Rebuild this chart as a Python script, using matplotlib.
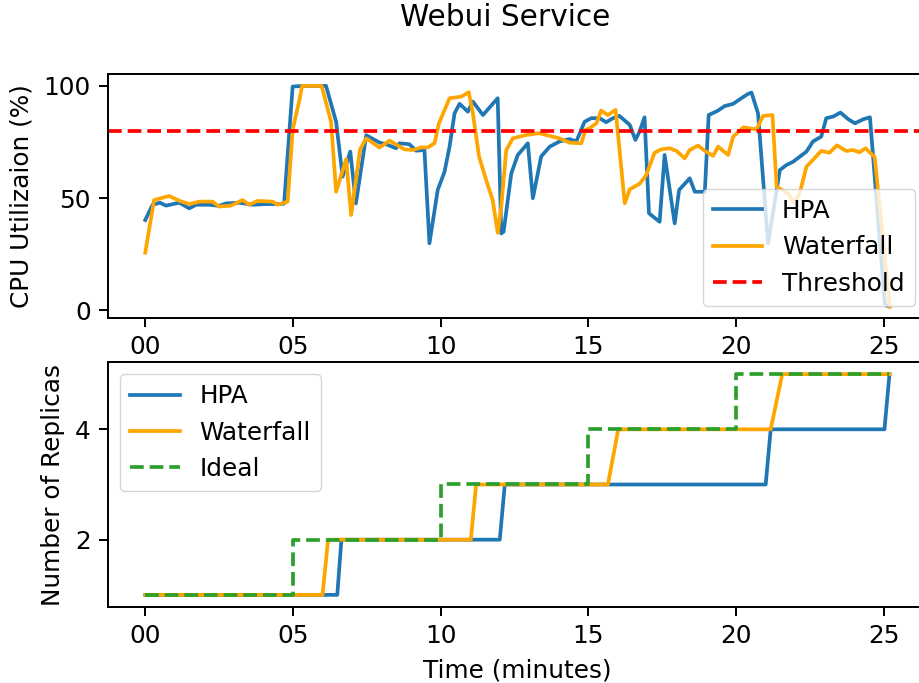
import matplotlib
matplotlib.use("Agg")
import matplotlib.pyplot as plt
from matplotlib.ticker import FuncFormatter, FixedLocator

# ---------------- data ----------------
hpa_t = [0, 0.25, 0.5, 0.7, 1.15, 1.49, 1.72, 2.17, 2.5, 2.73, 3.18, 3.63, 4.09, 4.54, 4.7,
         4.99, 5.33, 6.12, 6.46, 6.68, 6.94, 7.13, 7.48, 7.93, 8.15, 8.49, 8.6, 8.94, 9.17,
         9.45, 9.62, 9.9, 10.13, 10.3, 10.47, 10.64, 10.92, 11.09, 11.43, 11.93, 12.05,
         12.13, 12.39, 12.61, 12.95, 13.12, 13.4, 13.69, 14.02, 14.36, 14.59, 14.87, 15.1,
         15.38, 15.6, 15.83, 16.05, 16.4, 16.59, 16.73, 16.9, 17.05, 17.41, 17.58, 17.92,
         18.07, 18.43, 18.6, 18.94, 19.07, 19.39, 19.61, 19.9, 20.12, 20.4, 20.52, 20.74,
         21.08, 21.48, 21.7, 21.93, 22.15, 22.38, 22.6, 22.88, 23.05, 23.28, 23.53, 23.8,
         24.02, 24.3, 24.53, 25.03, 25.1]
hpa_cpu = [40.2, 47.0, 47.9, 46.6, 47.9, 45.4, 47.0, 47.0, 46.5, 47.6, 47.9, 47.0, 47.3, 47.3, 47.5,
           99.7, 100, 100, 84.0, 59.5, 70.7, 47.6, 78.0, 74.7, 74.0, 72.2, 74.4, 74.0, 71.1,
           71.4, 29.8, 53.6, 61.7, 72.9, 87.8, 92.0, 88.5, 93.0, 87.0, 94.5, 34.2,
           35.0, 61.0, 69.2, 74.4, 49.9, 68.5, 72.9, 75.2, 76.3, 75.2, 84.0, 85.6,
           85.6, 83.8, 85.6, 86.6, 82.6, 75.9, 79.6, 86.0, 43.2, 39.4, 69.2, 38.7,
           53.6, 58.8, 52.8, 52.8, 87.0, 89.0, 91.0, 92.0, 94.0, 96.4, 97.0, 87.8,
           29.8, 62.5, 64.7, 66.2, 68.4, 70.7, 75.2, 77.4, 85.6, 86.3, 88.1, 85.1,
           83.3, 85.1, 86.0, 3.0, 2.0]

wf_t = [0, 0.3, 0.81, 1.15, 1.49, 1.83, 2.28, 2.5, 2.9, 3.29, 3.52, 3.8, 4.31, 4.48, 4.82,
        4.99, 5.22, 5.31, 5.97, 6.29, 6.46, 6.8, 6.97, 7.27, 7.48, 7.93, 8.27, 8.77, 9.06,
        9.34, 9.55, 9.79, 9.94, 10.3, 10.7, 10.95, 11.09, 11.3, 11.54, 11.76, 11.93, 12.05,
        12.22, 12.44, 12.89, 13.34, 13.57, 14.02, 14.36, 14.76, 14.9, 15.04, 15.27, 15.43,
        15.66, 15.92, 16.23, 16.4, 16.73, 16.96, 17.24, 17.47, 17.75, 17.98, 18.26, 18.43,
        18.71, 18.94, 19.22, 19.39, 19.73, 19.9, 20.24, 20.69, 20.91, 21.23, 21.37, 21.76,
        21.95, 22.15, 22.38, 22.6, 22.88, 23.16, 23.41, 23.72, 23.95, 24.18, 24.38, 24.69,
        25.2]
wf_cpu = [25.6, 49.1, 50.9, 48.8, 47.3, 48.4, 48.4, 46.2, 46.6, 49.1, 47.0, 48.7, 48.4, 47.0, 48.4,
          80.4, 93.8, 100, 100, 84.0, 52.8, 67.3, 42.4, 71.7, 76.6, 72.5, 75.6, 71.7, 71.4,
          72.6, 72.5, 74.4, 83.3, 94.5, 95.2, 97.2, 87.8, 68.4, 58.0, 49.1, 34.5, 46.1,
          71.4, 76.6, 78.1, 78.9, 78.1, 76.6, 74.7, 74.4, 80.4, 81.1, 83.3, 89.0,
          87.0, 89.3, 47.6, 53.9, 56.3, 60.3, 70.2, 71.7, 72.2, 71.0, 67.7, 71.4,
          73.4, 71.0, 68.8, 72.9, 69.2, 77.4, 81.5, 80.6, 86.6, 87.0, 55.0, 52.0,
          48.0, 52.0, 64.0, 67.0, 71.0, 70.2, 73.5, 71.0, 71.4, 70.4, 72.2, 68.2,
          1.5]

threshold = 80

hpa_rep_t = [0, 6.5, 6.64, 12.0, 12.17, 21.0, 21.17, 25.02, 25.19]
hpa_rep = [1, 1, 2, 2, 3, 3, 4, 4, 5]
wf_rep_t = [0, 6.0, 6.19, 11.02, 11.2, 15.66, 16.01, 21.17, 21.56, 25.19]
wf_rep = [1, 1, 2, 2, 3, 3, 4, 4, 5, 5]
ideal_t = [0, 5, 10, 15, 20, 25.19]
ideal_rep = [1, 2, 3, 4, 5, 5]

title = "Webui Service"
x_ticks = [0, 5, 10, 15, 20, 25]

# ---------------- style ----------------
s = 1.78
fs = 10 * s
plt.rcParams.update({
    "font.family": ["DejaVu Sans"],
    "font.size": fs,
    "axes.linewidth": 0.8 * s,
    "xtick.major.width": 0.8 * s,
    "ytick.major.width": 0.8 * s,
    "xtick.major.size": 3.5 * s,
    "ytick.major.size": 3.5 * s,
    "xtick.major.pad": 3.5 * s,
    "ytick.major.pad": 3.5 * s,
    "lines.linewidth": 1.5 * s,
    "legend.fontsize": fs,
    "axes.labelpad": 4.0 * s,
})

W, H = 920, 683
fig = plt.figure(figsize=(W / 100, H / 100), dpi=100)
ax1 = fig.add_axes([108 / W, 1 - 318 / H, (927 - 108) / W, (318 - 74) / H])
ax2 = fig.add_axes([108 / W, 1 - 607 / H, (927 - 108) / W, (607 - 362) / H])

fmt = FuncFormatter(lambda v, p: f"{int(round(v)):02d}")

ax1.plot(hpa_t, hpa_cpu, color="#1f77b4", label="HPA")
ax1.plot(wf_t, wf_cpu, color="orange", label="Waterfall")
ax1.axhline(threshold, color="red", linestyle="--", label="Threshold")
ax1.set_ylabel("CPU Utilizaion (%)")
ax1.set_ylim(-3.5, 105.3)
ax1.set_yticks([0, 50, 100])
ax1.legend(loc="lower right")

ax2.plot(hpa_rep_t, hpa_rep, color="#1f77b4", label="HPA")
ax2.plot(wf_rep_t, wf_rep, color="orange", label="Waterfall")
ax2.step(ideal_t, ideal_rep, where="post", color="#2ca02c", linestyle="--", label="Ideal")
ax2.set_ylabel("Number of Replicas")
ax2.set_xlabel("Time (minutes)")
ax2.set_ylim(0.78, 5.22)
ax2.set_yticks([2, 4])
ax2.legend(loc="upper left")

for ax in (ax1, ax2):
    ax.set_xlim(-1.26, 26.46)
    ax.xaxis.set_major_locator(FixedLocator(x_ticks))
    ax.xaxis.set_major_formatter(fmt)

fig.text(505 / W, 1 - 17 / H, title, ha="center", va="center", fontsize=12 * s)

fig.savefig("out.png", dpi=100)
